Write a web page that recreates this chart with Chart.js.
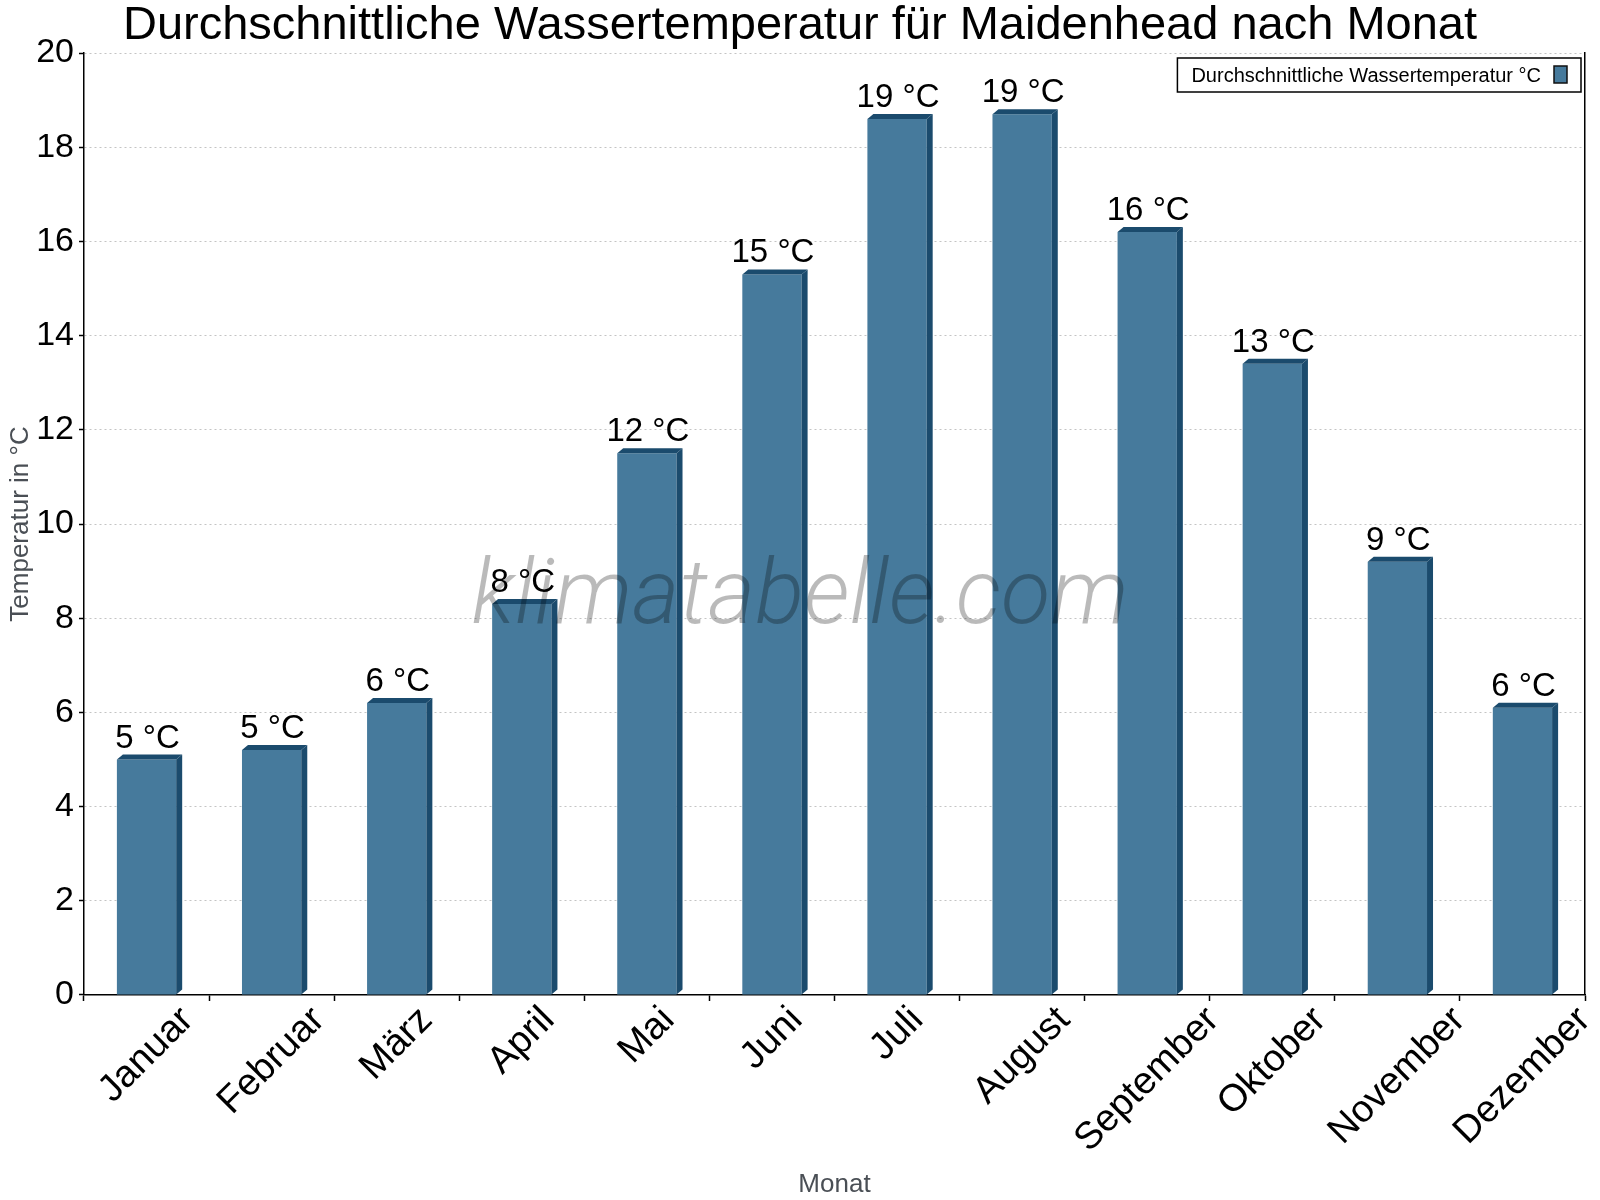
<!DOCTYPE html>
<html lang="de">
<head>
<meta charset="utf-8">
<title>Wassertemperatur Maidenhead</title>
<script src="https://cdn.jsdelivr.net/npm/chart.js@4.4.1/dist/chart.umd.min.js"></script>
<style>
  html, body { margin: 0; padding: 0; background: #fff; }
  #wrap { width: 1600px; height: 1200px; }
</style>
</head>
<body>
<div id="wrap"><canvas id="chart" width="1600" height="1200"></canvas></div>
<script>
// ── Daten ──
const chartTitle = 'Durchschnittliche Wassertemperatur für Maidenhead nach Monat';
const seriesLabel = 'Durchschnittliche Wassertemperatur °C';
const months = ['Januar', 'Februar', 'März', 'April', 'Mai', 'Juni', 'Juli',
    'August', 'September', 'Oktober', 'November', 'Dezember'];
const waterTemp = [5.0, 5.2, 6.2, 8.3, 11.5, 15.3, 18.6, 18.7, 16.2, 13.4, 9.2, 6.1];
const yMin = 0;
const yMax = 20;
const yStep = 2;

// ── Stil ──
const FONT = "'Liberation Sans', Arial, sans-serif";
const FRONT = '#467a9c';
const DARK = '#1b4b6d';
const DX = 6, DY = 5;   // 3D-Tiefe der Balken

Chart.defaults.font.family = FONT;
Chart.defaults.color = '#000';

// 3D-Seiten, Wasserzeichen, Werte, Legende, x-Beschriftung
const bar3d = {
    id: 'bar3d',
    afterDatasetsDraw(chart) {
        const ctx = chart.ctx;
        const meta = chart.getDatasetMeta(0);
        const area = chart.chartArea;
        ctx.save();
        ctx.fillStyle = DARK;
        meta.data.forEach(bar => {
            const { x, y, base, width } = bar.getProps(['x', 'y', 'base', 'width'], true);
            const l = x - width / 2, r = x + width / 2;
            ctx.beginPath();
            ctx.moveTo(l, y);
            ctx.lineTo(l + DX, y - DY);
            ctx.lineTo(r + DX, y - DY);
            ctx.lineTo(r, y);
            ctx.closePath();
            ctx.fill();
            ctx.beginPath();
            ctx.moveTo(r, y);
            ctx.lineTo(r + DX, y - DY);
            ctx.lineTo(r + DX, base - DY);
            ctx.lineTo(r, base);
            ctx.closePath();
            ctx.fill();
        });

        // Wasserzeichen
        const wmText = 'klimatabelle.com';
        ctx.font = "italic 300 90px Roboto, " + FONT;
        const wmW = ctx.measureText(wmText).width;
        const wmSize = 90 * 657 / wmW;
        ctx.font = "italic 300 " + wmSize.toFixed(1) + "px Roboto, " + FONT;
        ctx.fillStyle = 'rgba(0,0,0,0.27)';
        ctx.textAlign = 'center';
        ctx.textBaseline = 'alphabetic';
        ctx.fillText(wmText, 800, 623);

        // Werte über den Balken
        ctx.font = '33px ' + FONT;
        ctx.fillStyle = '#000';
        ctx.textAlign = 'center';
        ctx.textBaseline = 'alphabetic';
        meta.data.forEach((bar, i) => {
            const { x, y } = bar.getProps(['x', 'y'], true);
            ctx.fillText(Math.round(waterTemp[i]) + ' °C', x + 1, y - DY - 7);
        });

        // Legende
        const ds = chart.data.datasets[0];
        ctx.font = '20px ' + FONT;
        const tw = ctx.measureText(ds.label).width;
        const boxR = 1581, boxT = 58, boxH = 34;
        const boxL = boxR - (14 + tw + 13 + 13 + 14);
        ctx.fillStyle = '#fff';
        ctx.fillRect(boxL, boxT, boxR - boxL, boxH);
        ctx.strokeStyle = '#000';
        ctx.lineWidth = 1.5;
        ctx.strokeRect(boxL, boxT, boxR - boxL, boxH);
        ctx.fillStyle = '#000';
        ctx.textAlign = 'left';
        ctx.textBaseline = 'middle';
        ctx.fillText(ds.label, boxL + 14, boxT + boxH / 2 + 1);
        const sx = boxL + 14 + tw + 13;
        ctx.fillStyle = ds.backgroundColor;
        ctx.fillRect(sx, boxT + 8, 13, 17);
        ctx.strokeStyle = '#111';
        ctx.lineWidth = 1.5;
        ctx.strokeRect(sx, boxT + 8, 13, 17);

        // x-Achsenbeschriftung, 45° gedreht, um die Kategorie zentriert
        const xs = chart.scales.x;
        const size = 38;
        ctx.font = size + 'px ' + FONT;
        ctx.fillStyle = '#000';
        ctx.textAlign = 'center';
        ctx.textBaseline = 'middle';
        chart.data.labels.forEach((lab, i) => {
            const px = xs.getPixelForValue(i);
            const w = ctx.measureText(lab).width;
            const ext = (w + 0.6 * size) / Math.SQRT2;
            ctx.save();
            ctx.translate(px, area.bottom + 11 + ext / 2);
            ctx.rotate(-Math.PI / 4);
            ctx.fillText(lab, 0, 0);
            ctx.restore();
        });
        ctx.restore();
    }
};

new Chart(document.getElementById('chart'), {
    type: 'bar',
    data: {
        labels: months,
        datasets: [{
            label: seriesLabel,
            data: waterTemp,
            backgroundColor: FRONT,
            borderWidth: 0,
            barPercentage: 0.474,
            categoryPercentage: 1
        }]
    },
    options: {
        responsive: false,
        animation: false,
        devicePixelRatio: 1,
        layout: { padding: 0 },
        plugins: {
            legend: { display: false },
            tooltip: { enabled: false },
            title: {
                display: true,
                text: chartTitle,
                color: '#000',
                font: { family: FONT, size: 47, weight: 'normal', lineHeight: 1.128 },
                padding: { top: 0, bottom: 0 }
            }
        },
        scales: {
            x: {
                grid: {
                    offset: true,
                    drawOnChartArea: false,
                    drawTicks: true,
                    tickLength: 6,
                    tickColor: '#000',
                    tickWidth: 1.5
                },
                border: { color: '#000', width: 1.5 },
                ticks: { display: false },
                title: {
                    display: true,
                    text: 'Monat',
                    color: '#4a4f55',
                    font: { size: 26, lineHeight: 1.2 },
                    padding: { top: 0, bottom: 0 }
                },
                afterFit(scale) {
                    scale.height = 205;
                    scale.paddingLeft = 0;
                    scale.paddingRight = 0;
                }
            },
            y: {
                min: yMin,
                max: yMax,
                ticks: {
                    stepSize: yStep,
                    color: '#000',
                    font: { size: 34 },
                    padding: 5
                },
                grid: {
                    color: '#c4c4c4',
                    lineWidth: 1,
                    tickColor: '#000',
                    tickLength: 5,
                    tickWidth: 1.5
                },
                border: { color: '#000', width: 1.5, dash: [2, 3] },
                title: {
                    display: true,
                    text: 'Temperatur in °C',
                    color: '#4a4f55',
                    font: { size: 26, lineHeight: 1.2 },
                    padding: { top: 5, bottom: 0 }
                },
                afterFit(scale) {
                    scale.width = 84;
                }
            },
            // rechte Rahmenlinie
            yRight: {
                position: 'right',
                min: yMin,
                max: yMax,
                grid: { display: false, drawTicks: false },
                ticks: { display: false },
                border: { display: true, color: '#000', width: 1.5 },
                afterFit(scale) {
                    scale.width = 15;
                    scale.paddingTop = 0;
                    scale.paddingBottom = 0;
                }
            }
        }
    },
    plugins: [bar3d]
});
</script>
</body>
</html>
